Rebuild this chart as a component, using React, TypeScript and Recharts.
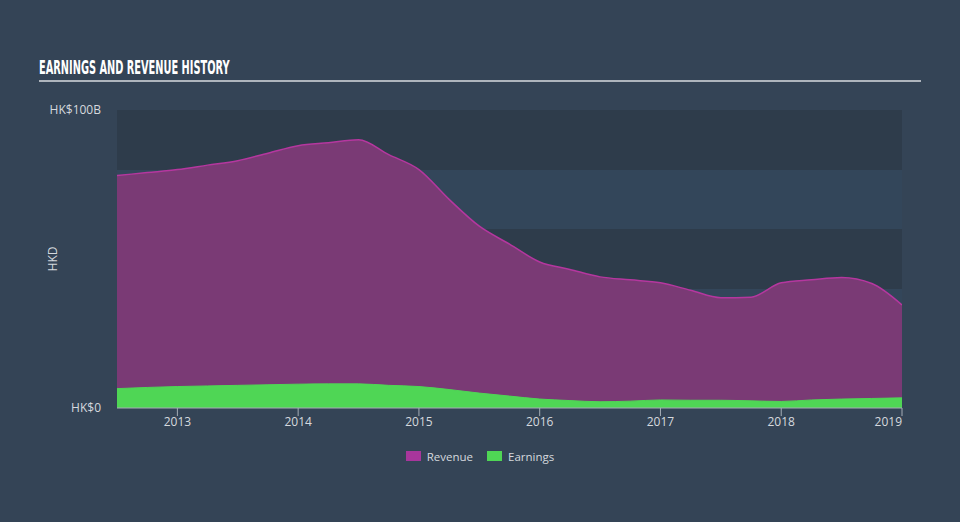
import React from 'react';
import {
    AreaChart,
    Area,
    XAxis,
    YAxis,
    CartesianGrid,
    Legend
} from 'recharts';

// quarter points, decimal years
const periods = [
    2012.5, 2012.75, 2013, 2013.25, 2013.5, 2013.75, 2014, 2014.25, 2014.5,
    2014.75, 2015, 2015.25, 2015.5, 2015.75, 2016, 2016.25, 2016.5, 2016.75,
    2017, 2017.25, 2017.5, 2017.75, 2018, 2018.25, 2018.5, 2018.75, 2019
];

// HK$ billions
const revenue = [
    78, 79, 80, 81.5, 83, 85.5, 88, 89, 90,
    85, 80, 70, 61, 55, 49, 46.5, 44, 43,
    42, 39.5, 37, 37.2, 42, 43, 43.8, 41.8, 34.6
];

const earnings = [
    6.5, 6.9, 7.2, 7.4, 7.6, 7.8, 8.0, 8.1, 8.1,
    7.6, 7.2, 6.2, 5.0, 4.0, 3.0, 2.5, 2.1, 2.3,
    2.7, 2.6, 2.6, 2.4, 2.2, 2.7, 3.0, 3.2, 3.4
];

const xTicks = [2013, 2014, 2015, 2016, 2017, 2018, 2019];
const yMax = 100;
const yTicks = [0, yMax];
const yGridValues = [0, 20, 40, 60, 80, 100];

const data = periods.map((t, i) => ({ t, revenue: revenue[i], earnings: earnings[i] }));

const FONT = '"Open Sans", sans-serif';

const XTick = (props: any) => {
    const { x, y, payload } = props;
    const last = payload.value === xTicks[xTicks.length - 1];
    return (
        <text
            x={x}
            y={y}
            dy="0.71em"
            textAnchor={last ? 'end' : 'middle'}
            fill="#d5d9de"
            fontSize={12}
            fontFamily={FONT}
        >
            {payload.value}
        </text>
    );
};

const yLabel = (v: number) => (v === 0 ? 'HK$0' : 'HK$' + v + 'B');

const LegendContent = () => (
    <div style={{ display: 'flex', justifyContent: 'center', height: 18, fontFamily: FONT, fontSize: 11.5, color: '#d5d9de' }}>
        {[
            { name: 'Revenue', color: '#a8369c' },
            { name: 'Earnings', color: '#4fd655' }
        ].map((item) => (
            <div key={item.name} style={{ display: 'flex', alignItems: 'center', margin: '0 7px' }}>
                <span style={{ display: 'inline-block', width: 15, height: 10, background: item.color, marginRight: 6 }} />
                <span>{item.name}</span>
            </div>
        ))}
    </div>
);

const App = () => {
    return (
        <div style={{ position: 'fixed', left: 0, top: 0, width: 960, height: 522, background: '#344456' }}>
            <div
                style={{
                    position: 'absolute',
                    left: 39,
                    top: 56,
                    width: 882,
                    height: 24,
                    borderBottom: '2px solid #aeb5bd'
                }}
            >
                <div
                    style={{
                        color: '#ffffff',
                        fontFamily: '"DejaVu Sans Condensed", sans-serif',
                        fontWeight: 'bold',
                        fontSize: 20,
                        lineHeight: '22px',
                        whiteSpace: 'nowrap',
                        transform: 'scaleX(0.545)',
                        transformOrigin: '0 0'
                    }}
                >
                    EARNINGS AND REVENUE HISTORY
                </div>
            </div>
            <div style={{ position: 'absolute', left: 0, top: 0 }}>
                <AreaChart
                    width={960}
                    height={522}
                    data={data}
                    margin={{ top: 110, right: 58, bottom: 0, left: 0 }}
                >
                    <CartesianGrid
                        vertical={false}
                        stroke="none"
                        horizontalFill={['#2e3c4b', '#33465a']}
                        fillOpacity={1}
                        horizontalCoordinatesGenerator={({ offset }: any) =>
                            yGridValues.map((v) => offset.top + offset.height * (1 - v / yMax))
                        }
                    />
                    <XAxis
                        dataKey="t"
                        type="number"
                        domain={[2012.5, 2019]}
                        ticks={xTicks}
                        allowDataOverflow
                        stroke="#a6adb6"
                        tickSize={8}
                        tickMargin={1}
                        tick={<XTick />}
                        height={96}
                    />
                    <YAxis
                        type="number"
                        domain={[0, yMax]}
                        ticks={yTicks}
                        width={117}
                        axisLine={false}
                        tickLine={false}
                        tickSize={0}
                        tickMargin={16}
                        tickFormatter={yLabel}
                        tick={{ fill: '#d5d9de', fontSize: 12, fontFamily: FONT }}
                        label={{
                            value: 'HKD',
                            angle: -90,
                            position: 'center',
                            dx: -6,
                            fill: '#d5d9de',
                            fontSize: 12,
                            fontFamily: FONT
                        }}
                    />
                    <Legend
                        verticalAlign="bottom"
                        content={<LegendContent />}
                        wrapperStyle={{ top: 447, left: 0, width: 960, height: 18 }}
                    />
                    <Area
                        type="monotone"
                        dataKey="revenue"
                        name="Revenue"
                        stroke="#b5379f"
                        strokeWidth={1.5}
                        fill="#7a3a75"
                        fillOpacity={1}
                        isAnimationActive={false}
                    />
                    <Area
                        type="monotone"
                        dataKey="earnings"
                        name="Earnings"
                        stroke="#4fd655"
                        strokeWidth={1}
                        fill="#4fd655"
                        fillOpacity={1}
                        isAnimationActive={false}
                    />
                </AreaChart>
            </div>
        </div>
    );
};

export default App;
